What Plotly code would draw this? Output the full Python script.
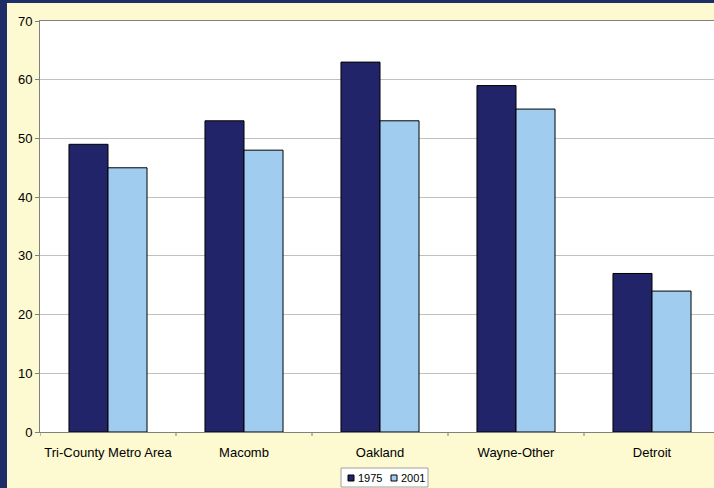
import plotly.graph_objects as go

categories = ["Tri-County Metro Area", "Macomb", "Oakland", "Wayne-Other", "Detroit"]
series_names = ["1975", "2001"]
values_1975 = [49, 53, 63, 59, 27]
values_2001 = [45, 48, 53, 55, 24]
y_ticks = [0, 10, 20, 30, 40, 50, 60, 70]
colors = ["#212468", "#A0CCF0"]

W, H = 714, 488
L, T, B, R = 40, 21, 56, 0

fig = go.Figure()
for name, vals, col in zip(series_names, [values_1975, values_2001], colors):
    fig.add_trace(go.Bar(name=name, x=categories, y=vals, showlegend=False,
                         marker=dict(color=col, line=dict(color="#000000", width=1))))

pw = W - L - R
ph = H - T - B
def px_x(p):
    return (p - L) / pw
def px_y(p):
    return (H - B - p) / ph

shapes = [
    dict(type="rect", xref="paper", yref="paper", x0=px_x(0), x1=px_x(7), y0=px_y(H), y1=px_y(0),
         fillcolor="#1E2C68", line=dict(width=0), layer="below"),
    dict(type="rect", xref="paper", yref="paper", x0=px_x(0), x1=px_x(W), y0=px_y(3), y1=px_y(0),
         fillcolor="#1E2C68", line=dict(width=0), layer="below"),
    # legend box
    dict(type="rect", xref="paper", yref="paper", x0=px_x(341), x1=px_x(428), y0=px_y(487), y1=px_y(468),
         fillcolor="#FFFFFF", line=dict(color="#A0A0A0", width=1)),
]
annotations = []
for i, (name, col) in enumerate(zip(series_names, colors)):
    sx = 348 + i * 43
    shapes.append(dict(type="rect", xref="paper", yref="paper", x0=px_x(sx), x1=px_x(sx + 6),
                       y0=px_y(481), y1=px_y(475), fillcolor=col, line=dict(color="#000000", width=1)))
    annotations.append(dict(text=name, xref="paper", yref="paper", x=px_x(sx + 8), y=px_y(478),
                            xanchor="left", yanchor="middle", showarrow=False,
                            font=dict(size=11, color="#000000")))

fig.update_layout(
    width=W, height=H,
    margin=dict(l=L, r=R, t=T, b=B, autoexpand=False),
    paper_bgcolor="#FDF9D0",
    plot_bgcolor="#FFFFFF",
    barmode="group",
    bargap=0.426,
    bargroupgap=0,
    font=dict(family="Liberation Sans, Arial, sans-serif", size=13, color="#000000"),
    shapes=shapes,
    annotations=annotations,
    xaxis=dict(range=[-0.5, 4.5 - 6/136], showgrid=False, showline=True, linecolor="#808080",
               linewidth=1, mirror=True, ticks="outside", ticklen=8, tickcolor="rgba(0,0,0,0)",
               tickfont=dict(size=13)),
    yaxis=dict(range=[0, 70], tickvals=y_ticks, showgrid=True, gridcolor="#C0C0C0", gridwidth=1,
               showline=True, linecolor="#808080", linewidth=1, mirror=True,
               ticks="outside", ticklen=4, tickcolor="#808080", zeroline=False,
               tickfont=dict(size=13)),
)

for i in range(len(categories) + 1):
    fig.add_shape(type="line", xref="x", yref="paper", x0=i - 0.5, x1=i - 0.5,
                  y0=0, y1=-4 / ph, line=dict(color="#808080", width=1))

fig.write_html("out.html")
